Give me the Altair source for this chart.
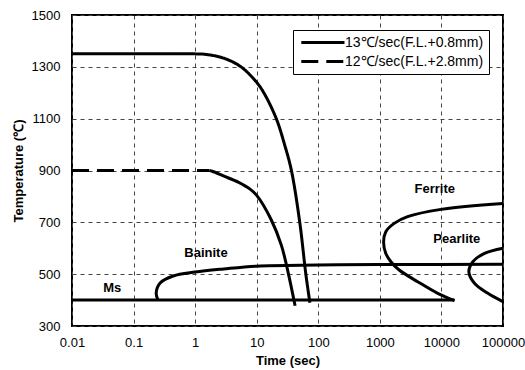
import altair as alt
import pandas as pd

FONT = "Liberation Sans"

s13 = "13℃/sec(F.L.+0.8mm)"
s12 = "12℃/sec(F.L.+2.8mm)"

# cooling curve 13 C/sec (solid)
c13_t = [0.01, 1, 1.5, 2.95, 5.55, 10, 13.4, 20.8, 28.5, 36.6, 50, 62.8, 73]
c13_T = [1350, 1350, 1348, 1333, 1300, 1240, 1195, 1100, 998, 900, 700, 500, 390]

# cooling curve 12 C/sec: dashed flat part, then solid descent
c12_dash_t = [0.01, 1.7]
c12_dash_T = [900, 900]
c12_t = [1.7, 1.9, 2.95, 5, 7.8, 10, 17.2, 25.1, 32.2, 42]
c12_T = [900, 897, 878, 855, 828, 804, 710, 612, 509, 378]

# Ms line
ms_t = [0.01, 16300]
ms_T = [400, 400]

# Bainite start curve
bain_t = [0.25, 0.233, 0.27, 0.44, 1, 2.9, 10, 100, 1000, 100000]
bain_T = [400, 427, 466, 493, 508, 520, 531, 535, 537, 538]

# Ferrite start curve
ferr_t = [100000, 9840, 2820, 1710, 1250, 1150, 1250, 1510, 2060, 4110, 8710, 16300]
ferr_T = [773, 750, 722, 696, 664, 625, 580, 548, 516, 471, 426, 398]

# Pearlite start curve
pear_t = [100000, 50000, 32400, 27900, 34400, 56800, 99500]
pear_T = [600, 580, 548, 509, 465, 426, 394]

# region labels
lab_text = ["Ferrite", "Pearlite", "Bainite", "Ms"]
lab_t = [7800, 17800, 1.5, 0.045]
lab_T = [828, 636, 582, 447]

x_ticks = [0.01, 0.1, 1, 10, 100, 1000, 10000, 100000]
y_ticks = [300, 500, 700, 900, 1100, 1300, 1500]


def rows(name, ts, Ts):
    return [{"series": name, "t": t, "T": T, "i": k} for k, (t, T) in enumerate(zip(ts, Ts))]


leg_df = pd.DataFrame(rows(s13, c13_t, c13_T) + rows(s12, c12_dash_t, c12_dash_T))
other_df = pd.DataFrame(
    rows("c12s", c12_t, c12_T)
    + rows("ms", ms_t, ms_T)
    + rows("bain", bain_t, bain_T)
    + rows("ferr", ferr_t, ferr_T)
    + rows("pear", pear_t, pear_T)
)
lab_df = pd.DataFrame({"label": lab_text, "t": lab_t, "T": lab_T})

xscale = alt.Scale(type="log", domain=[0.01, 100000], nice=False)
yscale = alt.Scale(domain=[300, 1500], nice=False, zero=False)

xaxis = alt.Axis(values=x_ticks, format="~g", title="Time (sec)", grid=True,
                 labelFlush=False, labelOverlap=False)
yaxis = alt.Axis(values=y_ticks, format="d", title="Temperature (℃)", grid=True,
                 labelFlush=False, labelOverlap=False)

X = alt.X("t:Q", scale=xscale, axis=xaxis)
Y = alt.Y("T:Q", scale=yscale, axis=yaxis)

legend_layer = alt.Chart(leg_df).mark_line(
    color="black", strokeWidth=3, interpolate="catmull-rom"
).encode(
    x=X,
    y=Y,
    strokeDash=alt.StrokeDash(
        "series:N",
        scale=alt.Scale(domain=[s13, s12], range=[[1, 0], [17, 8]]),
        legend=alt.Legend(
            title=None,
            orient="none",
            legendX=221,
            legendY=15,
            direction="vertical",
            strokeColor="black",
            fillColor="white",
            padding=5,
            symbolType="M-0.7,0H6.5",
            symbolSize=144,
            symbolStrokeWidth=3,
            symbolStrokeColor="black",
            labelFont=FONT,
            labelFontSize=14,
            labelColor="black",
            labelOffset=32,
            rowPadding=4,
        ),
    ),
    order="i:Q",
)

other_layer = alt.Chart(other_df).mark_line(
    color="black", strokeWidth=3, interpolate="catmull-rom"
).encode(x=X, y=Y, detail="series:N", order="i:Q")

text_layer = alt.Chart(lab_df).mark_text(
    font=FONT, fontSize=13, fontWeight="bold", color="black"
).encode(x=X, y=Y, text="label:N")

chart = (
    alt.layer(legend_layer, other_layer, text_layer)
    .properties(
        width=431,
        height=311,
        padding={"left": 72, "top": 15, "right": 22, "bottom": 44},
        autosize=alt.AutoSizeParams(type="none"),
        background="white",
    )
    .configure_view(stroke="black", strokeWidth=2)
    .configure_axis(
        domain=False,
        ticks=False,
        tickSize=0,
        labelFont=FONT,
        labelFontSize=13,
        labelColor="black",
        titleFont=FONT,
        titleFontSize=13,
        titleFontWeight="bold",
        titleColor="black",
        gridColor="#444444",
        gridDash=[4, 4],
        gridWidth=1,
    )
    .configure_axisX(labelPadding=10, titlePadding=5)
    .configure_axisY(labelPadding=12, titlePadding=6)
)

chart.save("out.html", embed_options={"renderer": "svg", "actions": False})
